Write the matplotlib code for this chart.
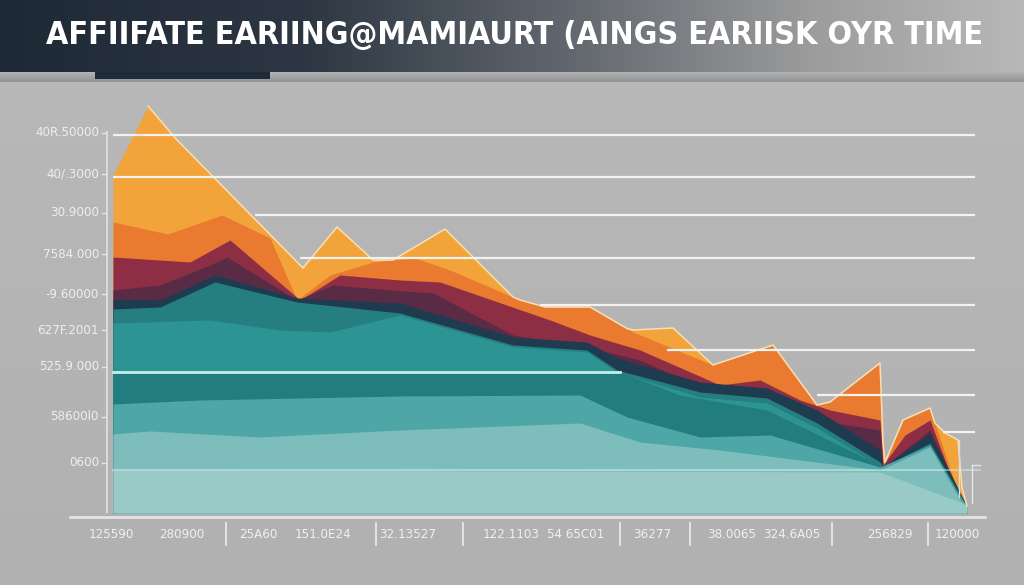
import numpy as np
import matplotlib
matplotlib.use("Agg")
import matplotlib.pyplot as plt
from matplotlib.colors import LinearSegmentedColormap

# ──────────────────────────────────────────────
# Datos (unidades arbitrarias)
# ──────────────────────────────────────────────
TITLE = "AFFIIFATE EARIING@MAMIAURT (AINGS EARIISK OYR TIME"

yellow_x = [0, 35, 64, 190, 224, 260, 280, 332, 410, 447, 520, 560, 600, 647, 704, 737, 767, 772, 797, 822, 832, 845, 849, 854]
yellow_y = [343, 412, 378, 250, 291, 258, 258, 289, 211, 206, 188, 190, 153, 148, 113, 108, 118, 48, 78, 93, 85, 78, 30, 12]

orange_x = [0, 55, 109, 157, 184, 217, 260, 302, 337, 407, 432, 477, 520, 600, 660, 704, 717, 767, 770, 790, 817, 845, 854]
orange_y = [296, 284, 303, 280, 218, 243, 256, 260, 248, 218, 211, 211, 186, 153, 173, 113, 116, 155, 51, 98, 110, 25, 12]

crimson_x = [0, 77, 117, 187, 227, 287, 327, 437, 477, 527, 607, 647, 687, 717, 767, 770, 792, 817, 845, 854]
crimson_y = [261, 256, 278, 218, 243, 238, 236, 198, 183, 168, 133, 138, 118, 108, 98, 53, 83, 98, 23, 12]

plum_x = [0, 47, 97, 114, 184, 220, 277, 320, 400, 474, 527, 587, 657, 704, 767, 770, 817, 847, 854]
plum_y = [228, 233, 253, 261, 218, 233, 228, 225, 183, 171, 158, 131, 121, 98, 88, 51, 88, 25, 12]

navy_x = [0, 47, 102, 184, 287, 400, 474, 504, 587, 654, 704, 767, 770, 817, 847, 854]
navy_y = [219, 218, 243, 220, 215, 181, 176, 160, 136, 130, 108, 68, 51, 85, 25, 12]

teal_dark_x = [0, 47, 102, 184, 287, 400, 474, 504, 587, 654, 704, 767, 770, 817, 847, 854]
teal_dark_y = [209, 211, 236, 216, 205, 173, 168, 148, 126, 120, 95, 56, 51, 75, 23, 12]

teal_x = [0, 97, 167, 217, 287, 400, 474, 504, 587, 654, 704, 767, 770, 817, 847, 854]
teal_y = [195, 198, 188, 186, 203, 171, 166, 146, 121, 115, 90, 52, 49, 72, 21, 12]

band1_x = [0, 507, 567, 654, 767, 770, 817, 847, 854]
band1_y = [146, 146, 123, 108, 53, 51, 73, 23, 12]

band2_x = [0, 87, 287, 467, 514, 587, 657, 767, 817, 847, 854]
band2_y = [114, 118, 122, 123, 101, 81, 83, 51, 73, 21, 12]

band3_x = [0, 37, 147, 287, 467, 527, 607, 767, 817, 847, 854]
band3_y = [84, 87, 81, 88, 95, 76, 68, 48, 71, 18, 12]

band4_x = [0, 767, 847, 854]
band4_y = [48, 46, 16, 12]

ytick_pos = [385, 344, 305, 264, 224, 188, 151, 101, 55]
ytick_labels = ["40R.50000", "40/.3000", "30.9000", "7584.000", "-9.60000",
                "627F.2001", "525.9.000", "58600l0", "0600"]

xtick_pos = [-2, 69, 145, 210, 295, 398, 463, 539, 619, 679, 777, 844]
xtick_labels = ["125590", "280900", "25A60", "151.0E24", "32.13527", "122.1103",
                "54 65C01", "36277", "38.0065", "324.6A05", "256829", "120000"]
xsep_pos = [113, 263, 350, 507, 577, 719, 815]

# líneas de la cuadrícula: (y, x inicio, x fin)
grid_y = [383, 341, 303, 260, 213, 168, 123, 86]
grid_x0 = [0, 0, 142, 187, 427, 554, 704, 830]
grid_x1 = [862, 862, 862, 862, 862, 862, 862, 862]

# ──────────────────────────────────────────────
# Figura
# ──────────────────────────────────────────────
plt.rcParams['font.family'] = ['DejaVu Sans']
plt.rcParams['font.stretch'] = 'condensed'

fig = plt.figure(figsize=(10.24, 5.85), dpi=100)
ax = fig.add_axes([0, 0, 1, 1])

# fondo gris
bg = np.linspace(0, 1, 256).reshape(-1, 1)
bg_cmap = LinearSegmentedColormap.from_list("bg", ["#b9b9b9", "#b1b1b1"])
ax.imshow(bg, extent=(-113, 911, -67, 518), aspect='auto', cmap=bg_cmap, zorder=0)

# banda del título
ban = np.linspace(0, 1, 512).reshape(1, -1)
ban_cmap = LinearSegmentedColormap.from_list(
    "ban", [(0, "#1d2935"), (0.3, "#2d3743"), (0.55, "#60666d"), (0.8, "#9d9d9d"), (1, "#b8b8b8")])
ax.imshow(ban, extent=(-113, 911, 446, 518), aspect='auto', cmap=ban_cmap, zorder=1)
shadow = np.linspace(0, 1, 64).reshape(-1, 1)
sh_cmap = LinearSegmentedColormap.from_list("sh", ["#b4b4b4", "#8f9296"])
ax.imshow(shadow, extent=(-113, 911, 436, 446), aspect='auto', cmap=sh_cmap, zorder=1)
ax.fill_between([-18, 157], 439, 446, color="#1f2b38", lw=0, zorder=2)

title = ax.text(402, 482, TITLE, ha='center', va='center', fontsize=27, fontweight='bold',
                color='white', zorder=3)

# capas del área (de atrás hacia delante)
layers = [
    (yellow_x, yellow_y, "#f2a33a"),
    (orange_x, orange_y, "#e97a2f"),
    (crimson_x, crimson_y, "#8e2e45"),
    (plum_x, plum_y, "#5a2b45"),
    (navy_x, navy_y, "#1e3b50"),
    (teal_dark_x, teal_dark_y, "#257f80"),
    (teal_x, teal_y, "#2c9593"),
    (band1_x, band1_y, "#227e7e"),
    (band2_x, band2_y, "#4ea7a6"),
    (band3_x, band3_y, "#7dbebc"),
    (band4_x, band4_y, "#9acac7"),
]
for lx, ly, col in layers:
    ax.fill_between(lx, 5, ly, color=col, lw=0, zorder=4)

# contorno claro sobre la envolvente superior
xs = np.unique(np.concatenate([np.asarray(l[0], float) for l in layers]))
env = np.max([np.interp(xs, l[0], l[1]) for l in layers], axis=0)
ax.plot(xs[1:], env[1:], color="#f8e0b0", lw=1.1, zorder=5)

# cuadrícula
for gy, x0, x1 in zip(grid_y, grid_x0, grid_x1):
    ax.plot([x0, x1], [gy, gy], color="#f2f2f2", lw=1.6, zorder=6, solid_capstyle='butt')
ax.plot([0, 507], [146, 146], color="#c6ecec", lw=2, zorder=6)
ax.plot([0, 867], [48, 48], color="#d8eeee", lw=1.2, alpha=0.6, zorder=6)

# pequeños trazos verticales a la derecha
ax.plot([846, 846], [21, 78], color="#dcdcdc", lw=1, zorder=6)
ax.plot([859, 859], [15, 53], color="#e6e6e6", lw=1, zorder=6)
ax.plot([859, 867], [53, 53], color="#e6e6e6", lw=1, zorder=6)

# ejes
ax.plot([-6, -6], [6, 386], color="#dadada", lw=1.5, zorder=6)
ax.plot([-43, 872], [1, 1], color="#e4e4e4", lw=2, zorder=6)

for yp, lab in zip(ytick_pos, ytick_labels):
    ax.text(-14, yp, lab, ha='right', va='center', fontsize=9.5, color="#eeeeee", zorder=6)
    ax.plot([-11, -7], [yp, yp], color="#e6e6e6", lw=1, zorder=6)

xlabels = []
for xp, lab in zip(xtick_pos, xtick_labels):
    xlabels.append(ax.text(xp, -16, lab, ha='center', va='center', fontsize=9.5,
                           color="#f0f0f0", zorder=6))
for xp in xsep_pos:
    ax.plot([xp, xp], [-27, -5], color="#ececec", lw=1.2, zorder=6)

ax.set_xlim(-113, 911)
ax.set_ylim(-67, 518)
ax.axis('off')

# el título debe caber en ~940 px
fig.canvas.draw()
w = title.get_window_extent().width
if w > 940:
    title.set_fontsize(27 * 940 / w)

fig.savefig("out.png", dpi=100, facecolor="#b5b5b5")
plt.close(fig)
